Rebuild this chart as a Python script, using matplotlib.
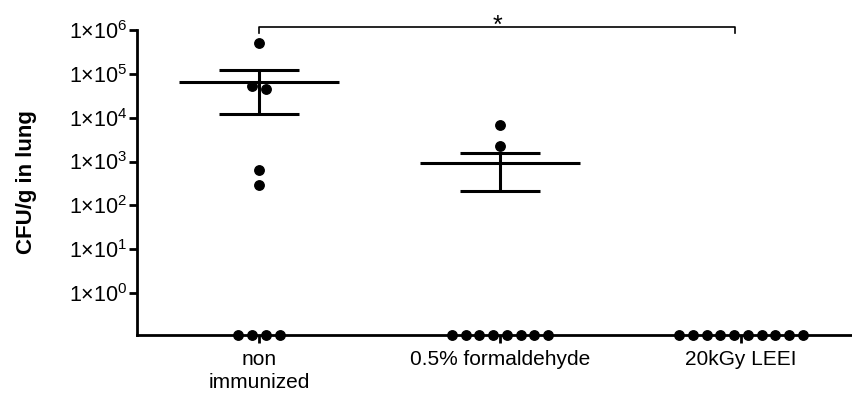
import numpy as np
import matplotlib.pyplot as plt

plt.rcParams['font.family'] = ['Liberation Sans', 'DejaVu Sans']
plt.rcParams['mathtext.fontset'] = 'custom'
plt.rcParams['mathtext.rm'] = 'Liberation Sans'

# CFU/g in lung per mouse (0 = below detection, drawn on the x axis)
groups = ['non\nimmunized', '0.5% formaldehyde', '20kGy LEEI']
non_immunized = [5.0e5, 5.3e4, 4.6e4, 630, 290, 0, 0, 0, 0]
formaldehyde = [6800, 2300, 0, 0, 0, 0, 0, 0, 0, 0]
leei = [0, 0, 0, 0, 0, 0, 0, 0, 0, 0]
ytick_exp = [0, 1, 2, 3, 4, 5, 6]

all_data = [non_immunized, formaldehyde, leei]

ybottom = 10 ** -0.958
ytop = 1e6
step = 0.057  # horizontal spacing between dots sharing a level


def swarm_x(vals, center):
    # spread dots that sit at (almost) the same log level
    vals = np.asarray(vals, dtype=float)
    logv = np.where(vals > 0, np.log10(np.where(vals > 0, vals, 1)), -99)
    xs = np.full(len(vals), float(center))
    order = np.argsort(-logv)
    bins = []
    for i in order:
        if bins and abs(logv[bins[-1][0]] - logv[i]) < 0.15:
            bins[-1].append(i)
        else:
            bins.append([i])
    for b in bins:
        n = len(b)
        for k, i in enumerate(b):
            xs[i] = center + (k - (n - 1) / 2) * step
    return xs


fig = plt.figure(figsize=(8.52, 3.98), dpi=100)
ax = fig.add_axes([137 / 852, 1 - 335 / 398, 1 - 137 / 852, (335 - 30) / 398])
ax.set_yscale('log')

for i, vals in enumerate(all_data):
    vals = np.asarray(vals, dtype=float)
    xs = swarm_x(vals, i)
    ys = np.where(vals > 0, vals, ybottom)
    ax.plot(xs, ys, 'o', color='black', ms=6.8, clip_on=False, zorder=5)

    mean = vals.mean()
    sem = vals.std(ddof=1) / np.sqrt(len(vals))
    if mean > 0:
        ax.hlines(mean, i - 0.33, i + 0.33, color='black', lw=2.2)
        ax.hlines([mean + sem, mean - sem], i - 0.165, i + 0.165, color='black', lw=2.2)
        ax.vlines(i, mean - sem, mean + sem, color='black', lw=2.2)

# significance bracket
yb = 10 ** 6.075
ax.plot([0, 0, 1.975, 1.975], [10 ** 5.93, yb, yb, 10 ** 5.93], color='black', lw=1.2, clip_on=False)
ax.text(0.99, 10 ** 5.93, '*', ha='center', va='baseline', fontsize=18, clip_on=False)

ax.set_xlim(-0.506, 2.46)
ax.set_ylim(ybottom, ytop)
ax.set_yticks([10.0 ** e for e in ytick_exp])
ax.set_yticklabels([r'$1{\times}10^{%d}$' % e for e in ytick_exp], fontsize=15.5)
ax.yaxis.set_minor_locator(plt.NullLocator())
ax.set_xticks(range(len(groups)))
ax.set_xticklabels(groups, fontsize=15, linespacing=1.25)

ax.spines['top'].set_visible(False)
ax.spines['right'].set_visible(False)
ax.spines['left'].set_linewidth(2)
ax.spines['bottom'].set_linewidth(2)
ax.tick_params(axis='y', length=6, width=2, pad=1)
ax.tick_params(axis='x', length=6, width=2, pad=5)

ax.set_ylabel('CFU/g in lung', fontsize=16, fontweight='bold')
ax.yaxis.set_label_coords(-0.14, 0.5)

fig.savefig('out.png', dpi=100)
